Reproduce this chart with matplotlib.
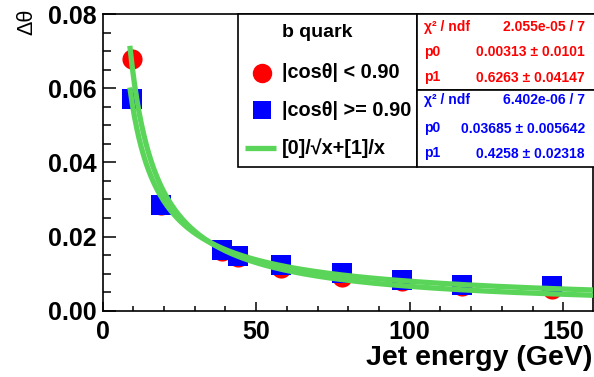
import numpy as np
import matplotlib
matplotlib.use("Agg")
from matplotlib import pyplot as plt
from matplotlib.patches import Rectangle
from matplotlib.ticker import FixedLocator, MultipleLocator, FormatStrFormatter

plt.rcParams['font.family'] = ['Liberation Sans', 'DejaVu Sans']

# jet energy bins (GeV) and angular resolution for both cos(theta) regions
energy = [9.5, 19, 39, 44, 58, 78, 97.5, 117, 146.5]
dtheta_central = [0.0678, 0.0285, 0.0160, 0.0146, 0.0115, 0.0092, 0.0079, 0.0067, 0.0058]
dtheta_forward = [0.0570, 0.0286, 0.0165, 0.0147, 0.0122, 0.0102, 0.0084, 0.0070, 0.0066]

# fit results [0]/sqrt(x) + [1]/x
fit_central = [0.00313, 0.6263]
fit_forward = [0.03685, 0.4258]
fit_range = [8.9, 160]

stats_central = ['2.055e-05 / 7', '0.00313 \u00b1 0.0101', '0.6263 \u00b1 0.04147']
stats_forward = ['6.402e-06 / 7', '0.03685 \u00b1 0.005642', '0.4258 \u00b1 0.02318']

x_ticks = [0, 50, 100, 150]
y_ticks = [0.0, 0.02, 0.04, 0.06, 0.08]

green = '#5ad55a'

fig = plt.figure(figsize=(5.94, 3.77), dpi=100)
W, H = 594, 377
ax = fig.add_axes([102.5 / W, 1 - 310.7 / H, (592.7 - 102.5) / W, (310.7 - 14) / H])

ax.plot(energy, dtheta_central, 'o', color='red', markersize=14.5, markeredgewidth=0, zorder=3)
ax.plot(energy, dtheta_forward, 's', color='blue', markersize=14, markeredgewidth=0, zorder=4)

xf = np.linspace(fit_range[0], fit_range[1], 400)
for p in (fit_central, fit_forward):
    ax.plot(xf, p[0] / np.sqrt(xf) + p[1] / xf, color=green, lw=3.8, zorder=5,
            solid_capstyle='butt')

ax.set_xlim(0, 159.6)
ax.set_ylim(0, 0.08)

ax.xaxis.set_major_locator(FixedLocator(x_ticks))
ax.xaxis.set_minor_locator(MultipleLocator(10))
ax.yaxis.set_major_locator(FixedLocator(y_ticks))
ax.yaxis.set_minor_locator(MultipleLocator(0.005))
ax.yaxis.set_major_formatter(FormatStrFormatter('%.2f'))
ax.xaxis.set_major_formatter(FormatStrFormatter('%d'))

ax.tick_params(axis='both', which='both', direction='in', width=1.1, top=False, right=False)
ax.tick_params(axis='y', which='major', length=9.5, pad=4, labelsize=18)
ax.tick_params(axis='y', which='minor', length=5.5)
ax.tick_params(axis='x', which='major', length=6.5, pad=7, labelsize=18)
ax.tick_params(axis='x', which='minor', length=3.5)
for lab in ax.get_xticklabels() + ax.get_yticklabels():
    lab.set_fontweight('bold')
for s in ax.spines.values():
    s.set_linewidth(1.2)

fig.text(592.7 / W, 1 - 365 / H, 'Jet energy (GeV)', ha='right', va='baseline',
         fontsize=20.5, fontweight='bold')
fig.text(27 / W, 1 - 9 / H, '\u0394\u03b8', rotation=90, ha='center', va='top', fontsize=15.5)

# legend and fit-statistics boxes, laid out in pixel coordinates
ov = fig.add_axes([0, 0, 1, 1], facecolor='none')
ov.set_xlim(0, W)
ov.set_ylim(H, 0)
ov.axis('off')

ov.add_patch(Rectangle((238.3, 14), 178.4, 152.7, facecolor='white', edgecolor='black', lw=1.2))
ov.add_patch(Rectangle((416.7, 14), 190, 76, facecolor='white', edgecolor='black', lw=1.2))
ov.add_patch(Rectangle((416.7, 90), 190, 76.7, facecolor='white', edgecolor='black', lw=1.2))

ov.text(317.5, 32.5, 'b quark', ha='center', va='center', fontsize=14, fontweight='bold')
ov.plot([261.7], [72.7], 'o', color='red', markersize=14, markeredgewidth=0)
ov.text(281.5, 73, '|cos\u03b8| < 0.90', ha='left', va='center', fontsize=14.3, fontweight='bold')
ov.plot([261.7], [110], 's', color='blue', markersize=13.5, markeredgewidth=0)
ov.text(281.5, 110.5, '|cos\u03b8| >= 0.90', ha='left', va='center', fontsize=14.3, fontweight='bold')
ov.plot([245, 276], [147.7, 147.7], color=green, lw=3.8, solid_capstyle='butt')
ov.text(281.5, 148, '[0]/\u221ax+[1]/x', ha='left', va='center', fontsize=14.3, fontweight='bold')

labels = ['\u03c7\u00b2 / ndf', 'p0', 'p1']
for vals, col, ys in ((stats_central, 'red', (26.7, 52, 77)),
                      (stats_forward, 'blue', (100, 128.3, 153.3))):
    for lab, val, y in zip(labels, vals, ys):
        ov.text(424.3, y, lab, ha='left', va='center', fontsize=10, fontweight='bold', color=col)
        ov.text(585, y + 0.5, val, ha='right', va='center', fontsize=10, fontweight='bold', color=col)

fig.savefig('out.png', dpi=100)
